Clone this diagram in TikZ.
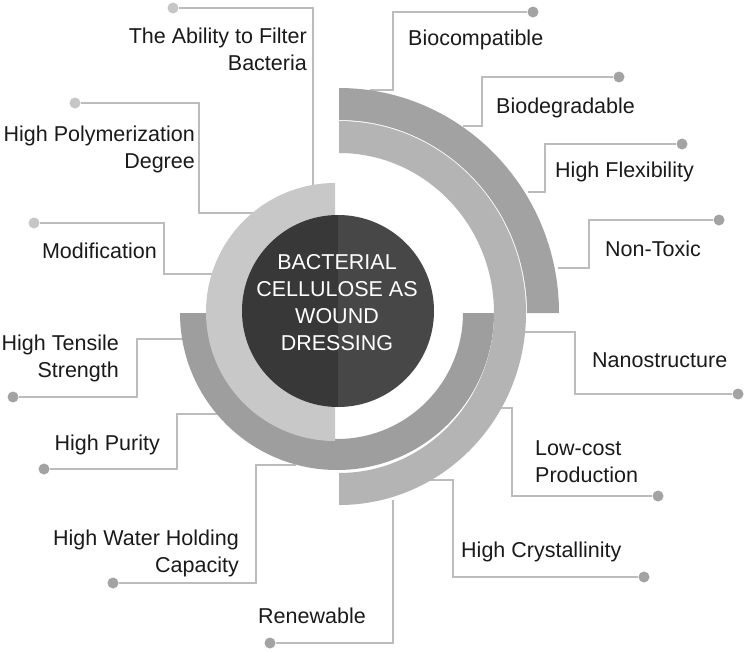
\documentclass[tikz,border=0pt]{standalone}
\usepackage{fontspec}
\setmainfont{Liberation Sans}
\usetikzlibrary{calc}
\definecolor{ringA}{HTML}{C8C8C8}
\definecolor{ringB}{HTML}{9E9E9E}
\definecolor{ringC}{HTML}{B4B4B4}
\definecolor{ringD}{HTML}{A2A2A2}
\definecolor{coreL}{HTML}{383838}
\definecolor{coreR}{HTML}{474747}
\definecolor{connC}{HTML}{BCBCBC}
\definecolor{dotLight}{HTML}{C6C6C6}
\definecolor{dotDark}{HTML}{A3A3A3}
\definecolor{txt}{HTML}{1A1A1A}
\newcommand\ringsector[9]{\fill[#1] ($(#2,#3)+(#8:#6 and #7)$) arc[start angle=#8,end angle=#9,x radius=#6,y radius=#7] -- ($(#2,#3)+(#9:#4 and #5)$) arc[start angle=#9,end angle=#8,x radius=#4,y radius=#5] -- cycle;}
\begin{document}
\begin{tikzpicture}[x=1pt,y=-1pt,
  lbl/.style={font=\fontsize{21.5}{27}\selectfont, text=txt, inner sep=0pt},
  lblL/.style={lbl, anchor=base east, align=right},
  lblR/.style={lbl, anchor=base west, align=left},
  dotl/.style={circle, fill=dotLight, inner sep=0pt, minimum size=11pt},
  dotd/.style={circle, fill=dotDark, inner sep=0pt, minimum size=11pt},
  conn/.style={draw=connC, line width=1.3pt}]
\useasboundingbox (0,0) rectangle (744,651);
\fill[white] (0,0) rectangle (744,651);

% dots
\node[dotl] (d1) at (173,8) {};
\node[dotl] (d2) at (75,103) {};
\node[dotl] (d3) at (34,223) {};
\node[dotd] (d4) at (533,12) {};
\node[dotd] (d5) at (619,77) {};
\node[dotd] (d6) at (682,144) {};
\node[dotd] (d7) at (719,220) {};
\node[dotd] (d8) at (738,394) {};
\node[dotd] (d9) at (658,496) {};
\node[dotd] (d10) at (644,577) {};
\node[dotd] (d11) at (270,643) {};
\node[dotd] (d12) at (13,397) {};
\node[dotd] (d13) at (44,469) {};
\node[dotd] (d14) at (113,583) {};

% ring end points
\coordinate (e1) at (313,190);
\coordinate (e2) at (254,213);
\coordinate (e3) at (216,274);
\coordinate (e4) at (370,90);
\coordinate (e5) at (463,126);
\coordinate (e6) at (528,192);
\coordinate (e7) at (558,268);
\coordinate (e8) at (524,332);
\coordinate (e9) at (500,408);
\coordinate (e10) at (428,480);
\coordinate (e11) at (393,500);
\coordinate (e12) at (185,339);
\coordinate (e13) at (220,414);
\coordinate (e14) at (296,465);
% bend columns
\coordinate (b2) at (199,0);
\coordinate (b3) at (164,0);
\coordinate (b4) at (393,0);
\coordinate (b5) at (482,0);
\coordinate (b6) at (545,0);
\coordinate (b7) at (589,0);
\coordinate (b8) at (575,0);
\coordinate (b9) at (512,0);
\coordinate (b10) at (453,0);
\coordinate (b12) at (137,0);
\coordinate (b13) at (177,0);
\coordinate (b14) at (256,0);

% connectors
\draw[conn] (e1) |- (d1);
\foreach \i in {2,3,4,5,6,7,8,9,10,12,13,14}
  \draw[conn] (e\i) -- (e\i -| b\i) |- (d\i);
\draw[conn] (e11) |- (d11);

% rings
\ringsector{ringB}{337}{313}{126}{126}{157}{157}{0}{180}
\ringsector{ringA}{335}{312}{90}{90}{129}{129}{90}{270}
\ringsector{ringC}{339}{313}{155}{160}{187}{192}{-90}{90}
\ringsector{ringD}{339}{313}{188}{193}{220}{225}{-90}{0}

% core
\fill[coreL] (338,215) arc[start angle=-90,end angle=-270,radius=96] -- cycle;
\fill[coreR] (338,215) arc[start angle=-90,end angle=90,radius=96] -- cycle;
\node[lbl, text=white, anchor=base, align=center] (title) at (337,350)
  {BACTERIAL\\CELLULOSE AS\\WOUND\\DRESSING};

% labels (base anchor = baseline of last line)
\node[lblL] (l1) at (307,70) {The Ability to Filter\\Bacteria};
\node[lblL] (l2) at (195,168) {High Polymerization\\Degree};
\node[lblL] (l3) at (157,258) {Modification};
\node[lblR] (l4) at (408,45) {Biocompatible};
\node[lblR] (l5) at (496,113) {Biodegradable};
\node[lblR] (l6) at (555,177) {High Flexibility};
\node[lblR] (l7) at (605,256) {Non-Toxic};
\node[lblR] (l8) at (592,367) {Nanostructure};
\node[lblR] (l9) at (535,482) {Low-cost\\Production};
\node[lblR] (l10) at (461,557) {High Crystallinity};
\node[lblR] (l11) at (258,623) {Renewable};
\node[lblL] (l12) at (119,377) {High Tensile\\Strength};
\node[lblL] (l13) at (160,450) {High Purity};
\node[lblL] (l14) at (239,572) {High Water Holding\\Capacity};
\end{tikzpicture}
\end{document}
